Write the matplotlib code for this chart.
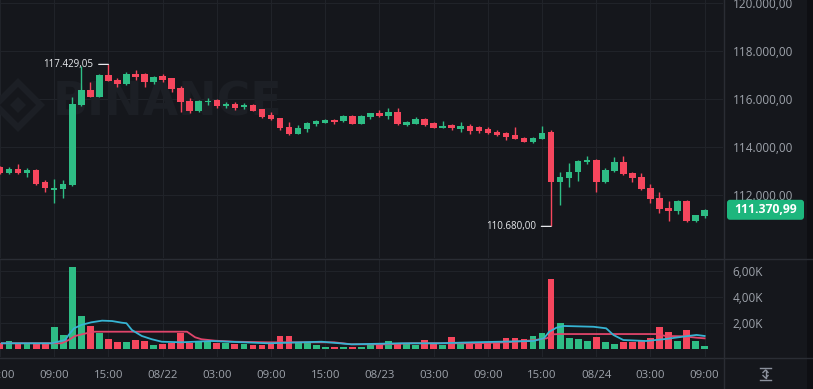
import matplotlib
matplotlib.use("Agg")
import matplotlib.pyplot as plt
import numpy as np
from matplotlib.transforms import IdentityTransform, blended_transform_factory
from matplotlib.patches import Polygon, FancyBboxPatch, Rectangle
from matplotlib.lines import Line2D

# ---- datos (velas de 1 hora, BTC) ----
horas = list(range(3, 82))

aperturas = [113170, 112890, 113070, 112890, 113030, 112540, 112210, 112240, 112400, 115740,
             116360, 116080, 116990, 116780, 116600, 117030, 117020, 116680, 116950, 116850,
             116430, 115900, 115490, 115850, 115950, 115700, 115790, 115650, 115740, 115560,
             115320, 115180, 114830, 114530, 114740, 114930, 115000, 115110, 115070, 115290,
             114960, 115230, 115420, 115290, 115430, 114900, 114960, 115150, 114980, 114790,
             114900, 114740, 114880, 114810, 114730, 114630, 114560, 114490, 114350, 114200,
             114330, 114630, 112520, 112680, 112930, 113380, 113450, 112540, 113000, 113380,
             112890, 112730, 112270, 111880, 111460, 111330, 111750, 110890, 111130]
maximos = [113200, 113170, 113290, 113100, 113070, 112610, 112650, 112610, 116080, 117380,
           116710, 117030, 117429.05, 116850, 117100, 117200, 117060, 116950, 117030, 116880,
           116530, 116020, 115950, 116040, 115990, 115880, 115880, 115810, 115780, 115580,
           115430, 115200, 115030, 114900, 115030, 115130, 115170, 115150, 115330, 115330,
           115320, 115420, 115520, 115600, 115630, 115080, 115250, 115180, 115010, 115070,
           114960, 115030, 114960, 114850, 114800, 114700, 114600, 114830, 114400, 114400,
           114860, 114700, 112930, 113310, 113450, 113610, 113500, 113100, 113580, 113610,
           112960, 112900, 112430, 112100, 111740, 111760, 111770, 111160, 111400]
minimos = [112850, 112850, 112860, 112750, 112400, 112130, 111640, 111850, 112360, 115700,
           116070, 116070, 116720, 116500, 116570, 116780, 116500, 116610, 116680, 116270,
           115460, 115390, 115450, 115740, 115630, 115600, 115530, 115570, 115490, 115180,
           115120, 114680, 114500, 114510, 114620, 114880, 114970, 114960, 115030, 114940,
           114940, 115150, 115240, 115150, 114900, 114850, 114930, 114850, 114760, 114770,
           114700, 114620, 114520, 114560, 114540, 114430, 114280, 114300, 114180, 114160,
           114300, 110680, 111570, 112330, 112580, 113280, 112130, 112500, 112960, 112830,
           112540, 112200, 111670, 111230, 110920, 111200, 110870, 110870, 111020]
cierres = [112890, 113070, 112890, 113030, 112450, 112270, 112290, 112460, 115770, 116360,
           116080, 116990, 116750, 116600, 117020, 116890, 116680, 116900, 116790, 116400,
           115880, 115490, 115900, 115900, 115710, 115770, 115630, 115740, 115500, 115250,
           115140, 114790, 114530, 114790, 115000, 115070, 115130, 115020, 115290, 114960,
           115290, 115390, 115290, 115430, 114930, 115040, 115150, 114900, 114790, 114880,
           114770, 114860, 114650, 114650, 114580, 114490, 114420, 114320, 114200, 114360,
           114580, 112540, 112750, 112960, 113400, 113450, 112540, 113030, 113380, 112850,
           112680, 112230, 111820, 111400, 111320, 111740, 110890, 111140, 111370.99]
volumen = [440, 640, 385, 440, 385, 385, 1670, 1080, 6280, 2540,
           1770, 1210, 750, 540, 540, 690, 590, 310, 385, 440,
           1250, 480, 590, 590, 480, 480, 385, 360, 310, 310,
           360, 1000, 1000, 440, 440, 310, 130, 130, 180, 130,
           180, 360, 440, 640, 440, 440, 310, 690, 360, 310,
           950, 360, 515, 515, 515, 615, 820, 870, 770, 1000,
           1210, 5360, 2020, 870, 770, 615, 950, 515, 385, 515,
           515, 690, 820, 1710, 1280, 615, 1440, 615, 250]

# medias del volumen (hora, valor)
ma_cian_h = [3.2, 8.7, 10.2, 10.6, 11.2, 12.0, 13.1, 14.3, 15.4, 16.5, 17.0, 17.6, 18.7, 19.8, 20.9,
             23.1, 26.4, 32.7, 36.4, 38.6, 41.9, 47.4, 51.6, 55.4, 62.0, 63.2, 63.8, 64.6, 65.4,
             68.7, 70.1, 70.9, 72.0, 74.5, 76.7, 78.6, 80.1, 81.0]
ma_cian_v = [440, 440, 690, 1080, 1590, 1850, 2050, 2180, 2150, 2020, 1980, 1460, 1000, 750, 560,
             515, 615, 440, 515, 560, 360, 440, 440, 515, 615, 820, 1330, 1640, 1770,
             1710, 1590, 1080, 690, 615, 770, 950, 1080, 1000]
ma_rosa_h = [3.2, 9.8, 10.6, 11.3, 12.8, 13.5, 23.7, 24.6, 25.3, 26.8, 29.0, 32.7, 40.0, 41.9, 45.6,
             48.6, 55.4, 59.0, 62.0, 63.5, 64.3, 64.9, 75.6, 76.7, 78.6, 80.1, 81.0]
ma_rosa_v = [440, 440, 690, 1000, 1250, 1330, 1330, 900, 750, 640, 560, 515, 515, 360, 360,
             440, 440, 515, 670, 820, 1130, 1150, 1150, 1000, 980, 870, 820]

ticks_h = [3, 9, 15, 21, 27, 33, 39, 45, 51, 57, 63, 69, 75, 81]
ticks_lab = ['03:00', '09:00', '15:00', '08/22', '03:00', '09:00', '15:00', '08/23',
             '03:00', '09:00', '15:00', '08/24', '03:00', '09:00']
precio_ticks = [112000, 114000, 116000, 118000, 120000]
vol_ticks = [2000, 4000, 6000]

# ---- estilo ----
BG = '#15171c'
GRID = '#202329'
SEP = '#2a2d34'
VERDE = '#2ebd85'
ROJO = '#f6465d'
TXT = '#9ea3ab'
plt.rcParams['font.family'] = ['Open Sans', 'DejaVu Sans']

W, H = 813, 389
fig = plt.figure(figsize=(W / 100, H / 100), dpi=100, facecolor=BG)
ax = fig.add_axes([0, 1 - 258 / H, 723 / W, 258 / H], facecolor=BG)
axv = fig.add_axes([0, 1 - 357 / H, 723 / W, 98 / H], facecolor=BG)

o = np.array(aperturas, dtype=float)
c = np.array(cierres, dtype=float)
col = [VERDE if ci >= oi else ROJO for oi, ci in zip(o, c)]

# velas
ax.vlines(horas, minimos, maximos, colors=col, lw=1, zorder=3)
ax.bar(horas, np.maximum(np.abs(c - o), 45), bottom=np.minimum(o, c), width=0.72,
       color=col, zorder=4)

ax.set_xlim(3.14, 83.03)
ax.set_ylim(109362, 120112)
ax.set_xticks(ticks_h)
ax.set_yticks(precio_ticks)
ax.set_yticklabels([f"{v:,.2f}".replace(',', 'X').replace('.', ',').replace('X', '.') for v in precio_ticks])
ax.yaxis.tick_right()
ax.tick_params(axis='y', length=0, pad=7, labelcolor=TXT, labelsize=8.5)
ax.tick_params(axis='x', length=0, labelbottom=False)
ax.grid(True, color=GRID, lw=0.8)
ax.set_axisbelow(True)
for s in ax.spines.values():
    s.set_visible(False)

# marca de agua
ax.text(53 / 723, 1 - 103 / 258, 'BINANCE', transform=ax.transAxes, fontsize=33,
        fontweight='bold', color='#1c1f25', family='DejaVu Sans', va='center', ha='left', zorder=1)
cx, cy = 18, 389 - 105
for r_ext, r_int in [(27, 18), (8, 0)]:
    ext = [(cx, cy + r_ext), (cx + r_ext, cy), (cx, cy - r_ext), (cx - r_ext, cy)]
    ax.add_patch(Polygon(ext, closed=True, fc='#1c1f25', ec='none', transform=IdentityTransform(), zorder=1))
    if r_int:
        hue = [(cx, cy + r_int), (cx + r_int, cy), (cx, cy - r_int), (cx - r_int, cy)]
        ax.add_patch(Polygon(hue, closed=True, fc=BG, ec='none', transform=IdentityTransform(), zorder=1))

# maximo y minimo
for h_i, val in [(15, 117429.05), (64, 110680.00)]:
    etiqueta = f"{val:,.2f}".replace(',', 'X').replace('.', ',').replace('X', '.')
    ax.annotate(etiqueta, xy=(h_i, val), xytext=(-11, 0), textcoords='offset points',
                ha='right', va='center', fontsize=7, color='#e8eaed', zorder=6,
                arrowprops=dict(arrowstyle='-', color='#e8eaed', lw=0.9, shrinkA=2, shrinkB=0))

# volumen
axv.bar(horas, volumen, width=0.75, color=col, zorder=2)
axv.plot(ma_rosa_h, ma_rosa_v, color='#e0456b', lw=1.3, zorder=3)
axv.plot(ma_cian_h, ma_cian_v, color='#36b4d3', lw=1.3, zorder=4)
axv.set_xlim(3.14, 83.03)
axv.set_ylim(-615, 6920)
axv.set_xticks(ticks_h)
axv.set_yticks(vol_ticks)
axv.set_yticklabels([f"{v / 1000:.2f}K".replace('.', ',') for v in vol_ticks])
axv.yaxis.tick_right()
axv.tick_params(axis='y', length=0, pad=7, labelcolor=TXT, labelsize=8.5)
axv.tick_params(axis='x', length=0, labelbottom=False)
axv.grid(True, color=GRID, lw=0.8)
axv.set_axisbelow(True)
for s in axv.spines.values():
    s.set_visible(False)

# etiquetas de tiempo
trans = blended_transform_factory(axv.transData, IdentityTransform())
for h_i, lab in zip(ticks_h, ticks_lab):
    axv.text(h_i, H - 375, lab, transform=trans, ha='center', va='center',
             fontsize=8.2, color=TXT, clip_on=False)

# separadores y franja derecha
fig.add_artist(Line2D([723.5, 723.5], [0, H], color=SEP, lw=1, transform=IdentityTransform()))
fig.add_artist(Line2D([0, W], [H - 258.5, H - 258.5], color=SEP, lw=1, transform=IdentityTransform()))
fig.add_artist(Line2D([0, W], [H - 357.5, H - 357.5], color=SEP, lw=1, transform=IdentityTransform()))
fig.add_artist(Rectangle((807, 0), 6, H, fc='#0e0f13', ec='none', transform=IdentityTransform()))

# ultimo precio
y_ult = ax.transData.transform((0, cierres[-1]))[1]
fig.add_artist(FancyBboxPatch((727, y_ult - 10), 77, 20, boxstyle='round,pad=0,rounding_size=3',
                              fc='#1db67d', ec='none', transform=IdentityTransform()))
fig.text(765.5 / W, y_ult / H, f"{cierres[-1]:,.2f}".replace(',', 'X').replace('.', ',').replace('X', '.'),
         ha='center', va='center', fontsize=8.7, fontweight='bold', color='white')

# icono de escala
ic = '#8b919c'
for seg in [([760, 771], [H - 368, H - 368]), ([760, 771], [H - 380, H - 380]),
            ([765.5, 765.5], [H - 370, H - 378]),
            ([763, 765.5, 768], [H - 372.5, H - 370, H - 372.5]),
            ([763, 765.5, 768], [H - 375.5, H - 378, H - 375.5])]:
    fig.add_artist(Line2D(seg[0], seg[1], color=ic, lw=1, transform=IdentityTransform()))

plt.savefig('out.png', dpi=100, facecolor=BG)
